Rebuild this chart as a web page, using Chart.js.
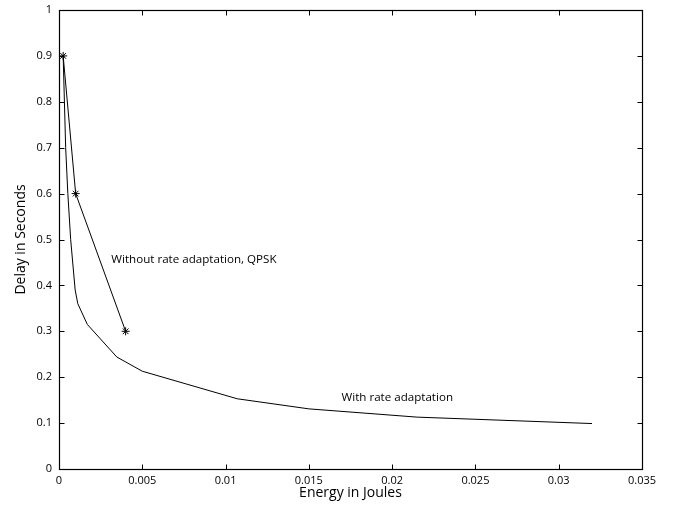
<!DOCTYPE html>
<html>
<head>
<meta charset="utf-8">
<script src="https://cdn.jsdelivr.net/npm/chart.js@4"></script>
<style>
  html, body { margin: 0; padding: 0; background: #fff; }
  #wrap { width: 678px; height: 511px; }
</style>
</head>
<body>
<div id="wrap"><canvas id="delayChart" width="678" height="511"></canvas></div>
<script>
// Data
// **************************************
const withoutEnergy = [0.00025, 0.001, 0.004];
const withoutDelay = [0.9, 0.6, 0.3];

const withEnergy = [0.00025, 0.0004, 0.00053, 0.0007, 0.00097, 0.00113, 0.0017, 0.00347, 0.005, 0.0107, 0.015, 0.0215, 0.032];
const withDelay = [0.9, 0.7, 0.6, 0.5, 0.39, 0.36, 0.315, 0.244, 0.213, 0.153, 0.131, 0.113, 0.099];

const xTicks = [0, 0.005, 0.01, 0.015, 0.02, 0.025, 0.03, 0.035];
const yTicks = [0, 0.1, 0.2, 0.3, 0.4, 0.5, 0.6, 0.7, 0.8, 0.9, 1];

const notes = [
  { text: 'Without rate adaptation, QPSK', x: 0.00314, y: 0.456 },
  { text: 'With rate adaptation', x: 0.01696, y: 0.155 },
];

const FONT = '"Open Sans", "DejaVu Sans", sans-serif';

const toPoints = (xs, ys) => xs.map((x, i) => ({ x: x, y: ys[i] }));

// box round the plot with inward ticks on every side
const framePlugin = {
  id: 'frame',
  afterDatasetsDraw(chart) {
    const { ctx, chartArea: a, scales } = chart;
    const L = Math.round(a.left) + 0.5, R = Math.round(a.right) + 0.5;
    const T = Math.round(a.top) + 0.5, B = Math.round(a.bottom) + 0.5;
    const len = 5;
    ctx.save();
    ctx.strokeStyle = '#000';
    ctx.lineWidth = 1.2;
    ctx.strokeRect(L, T, R - L, B - T);
    ctx.lineWidth = 1;
    ctx.beginPath();
    xTicks.forEach((v) => {
      const px = Math.round(scales.x.getPixelForValue(v)) + 0.5;
      ctx.moveTo(px, B); ctx.lineTo(px, B - len);
      ctx.moveTo(px, T); ctx.lineTo(px, T + len);
    });
    yTicks.forEach((v) => {
      const py = Math.round(scales.y.getPixelForValue(v)) + 0.5;
      ctx.moveTo(L, py); ctx.lineTo(L + len, py);
      ctx.moveTo(R, py); ctx.lineTo(R - len, py);
    });
    ctx.stroke();
    ctx.restore();
  },
};

// text labels next to the curves
const notesPlugin = {
  id: 'notes',
  afterDatasetsDraw(chart) {
    const { ctx, scales } = chart;
    ctx.save();
    ctx.fillStyle = '#000';
    ctx.font = '11.6px ' + FONT;
    ctx.textAlign = 'left';
    ctx.textBaseline = 'middle';
    notes.forEach((n) => {
      ctx.fillText(n.text, scales.x.getPixelForValue(n.x), scales.y.getPixelForValue(n.y));
    });
    ctx.restore();
  },
};

const config = {
  type: 'line',
  data: {
    datasets: [
      {
        label: 'Without rate adaptation, QPSK',
        data: toPoints(withoutEnergy, withoutDelay),
        borderColor: '#000',
        borderWidth: 1,
        pointStyle: 'star',
        pointRadius: 4,
        pointBorderColor: '#000',
        pointBorderWidth: 1,
        tension: 0,
      },
      {
        label: 'With rate adaptation',
        data: toPoints(withEnergy, withDelay),
        borderColor: '#000',
        borderWidth: 1,
        pointRadius: 0,
        tension: 0,
      },
    ],
  },
  options: {
    responsive: false,
    animation: false,
    layout: { padding: { top: 10, right: 36, left: 0, bottom: 0 } },
    plugins: {
      legend: { display: false },
      tooltip: { enabled: false },
    },
    scales: {
      x: {
        type: 'linear',
        min: 0,
        max: 0.035,
        grid: { display: false, drawTicks: false },
        border: { display: false },
        afterBuildTicks: (scale) => { scale.ticks = xTicks.map((v) => ({ value: v })); },
        afterFit: (scale) => {
          scale.height = 42;
          scale.paddingLeft = 0;
          scale.paddingRight = 0;
        },
        ticks: {
          color: '#000',
          padding: 5,
          maxRotation: 0,
          font: { family: FONT, size: 11 },
          callback: (value) => String(Number(value.toFixed(3))),
        },
        title: {
          display: true,
          text: 'Energy in Joules',
          color: '#000',
          font: { family: FONT, size: 14 },
          padding: { top: 0, bottom: 10 },
        },
      },
      y: {
        type: 'linear',
        min: 0,
        max: 1,
        grid: { display: false, drawTicks: false },
        border: { display: false },
        afterBuildTicks: (scale) => { scale.ticks = yTicks.map((v) => ({ value: v })); },
        afterFit: (scale) => {
          scale.width = 59;
          scale.paddingTop = 0;
          scale.paddingBottom = 0;
        },
        ticks: {
          color: '#000',
          padding: 7,
          font: { family: FONT, size: 11 },
          callback: (value) => String(Number(value.toFixed(1))),
        },
        title: {
          display: true,
          text: 'Delay in Seconds',
          color: '#000',
          font: { family: FONT, size: 14 },
          padding: { top: 13, bottom: 0 },
        },
      },
    },
  },
  plugins: [framePlugin, notesPlugin],
};

new Chart(document.getElementById('delayChart'), config);
</script>
</body>
</html>
